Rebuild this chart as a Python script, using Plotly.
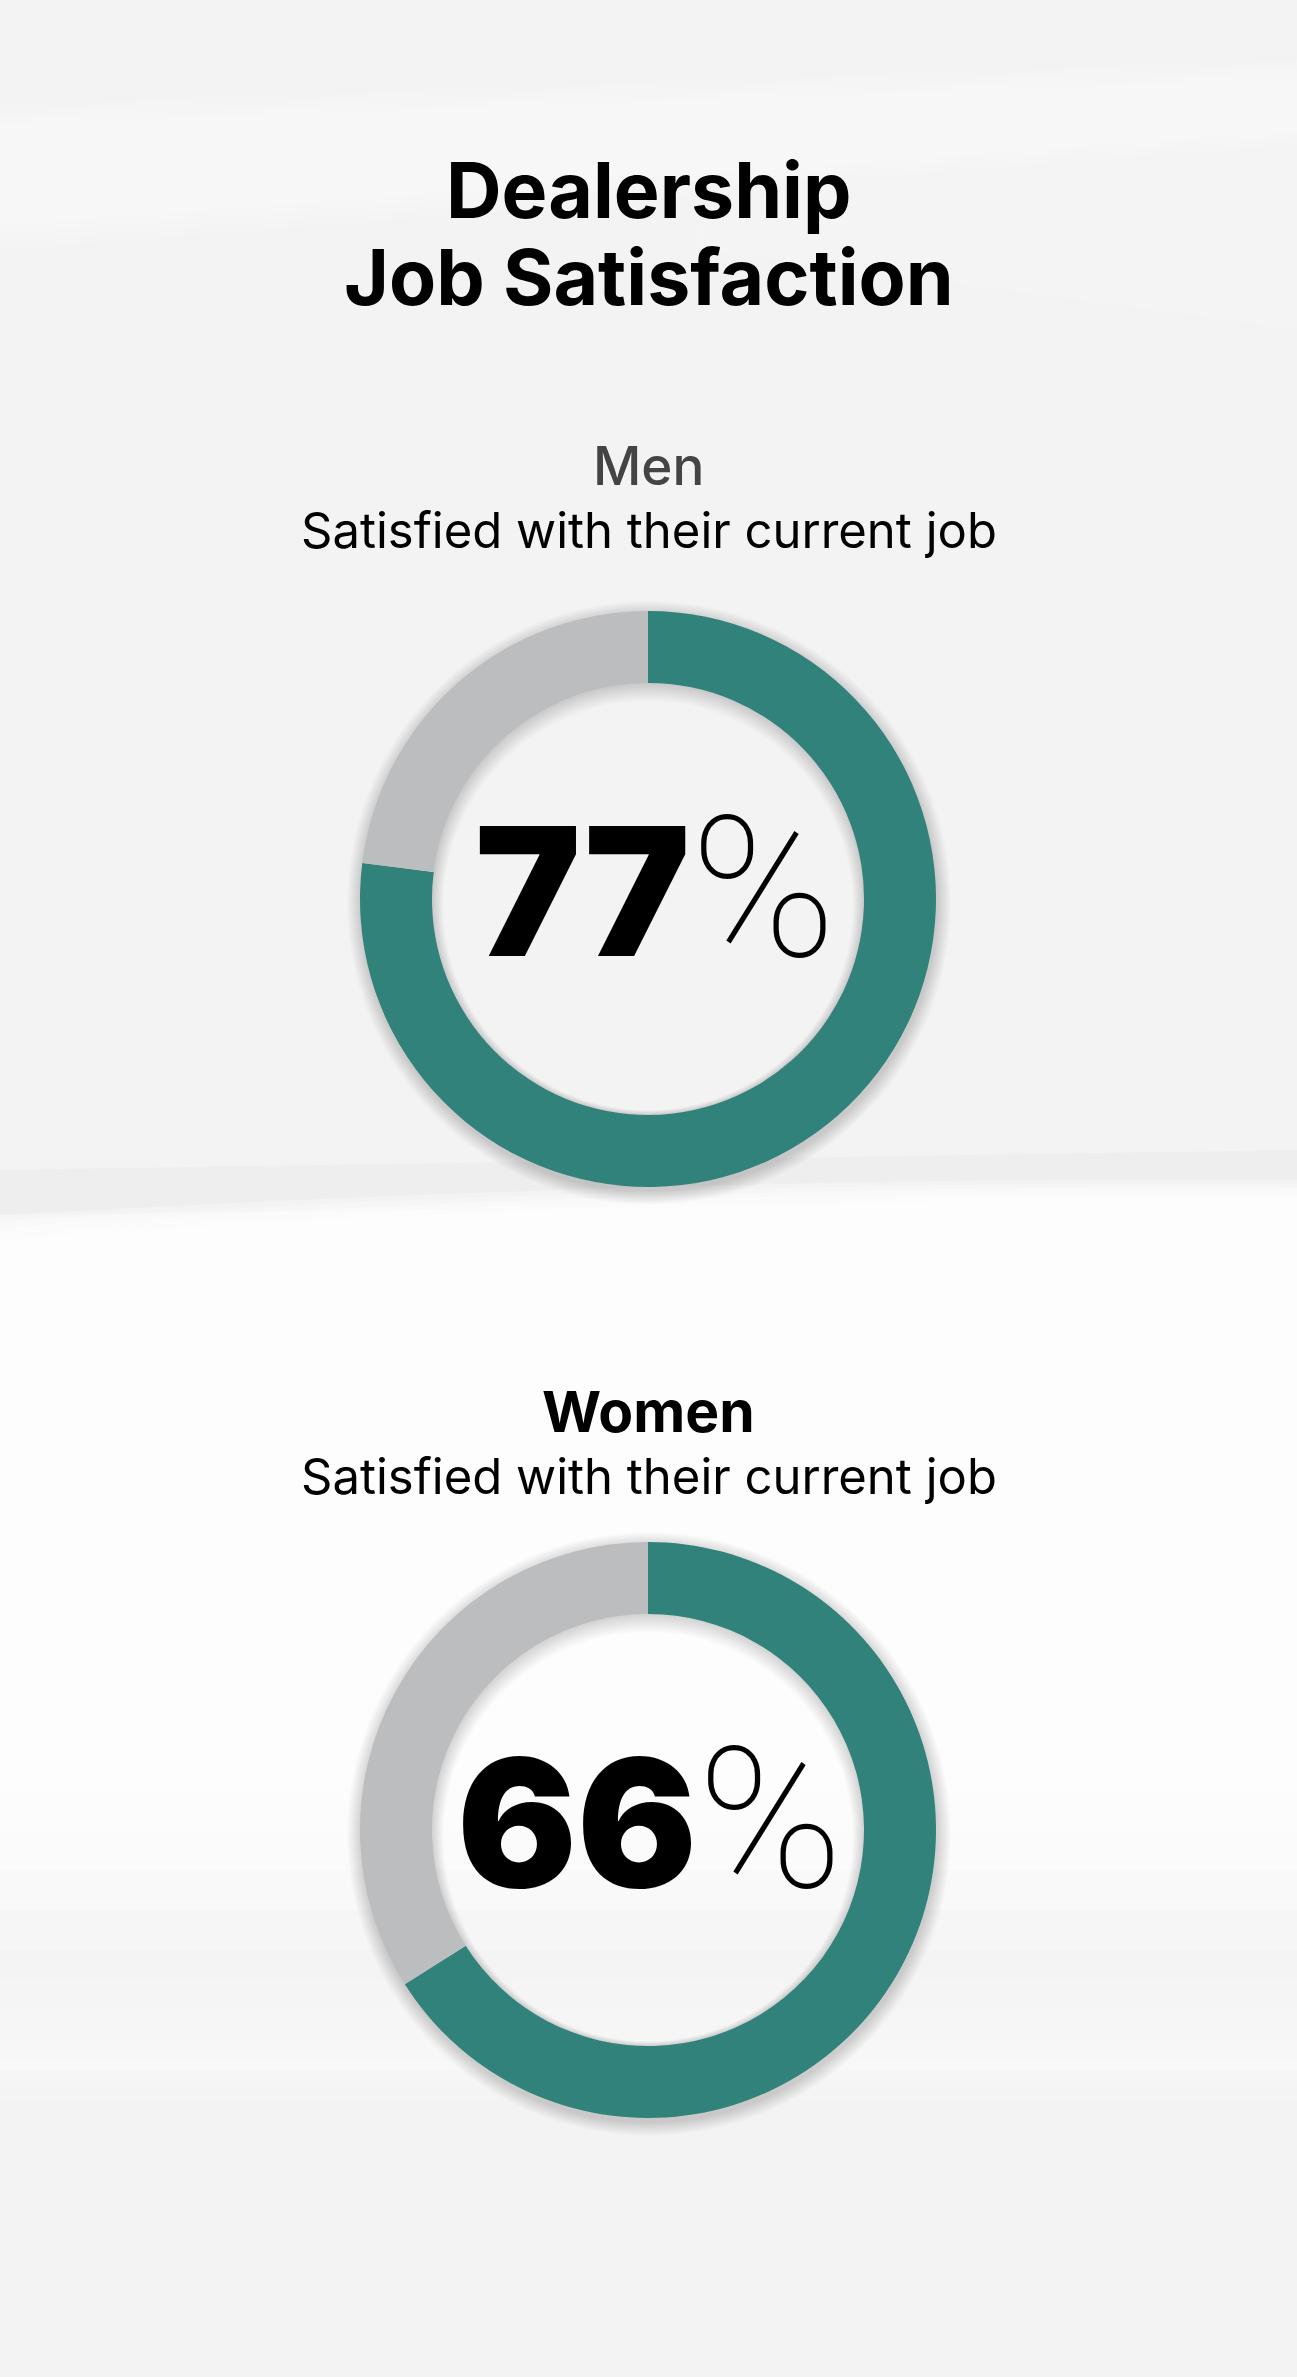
import math
import plotly.graph_objects as go

# chart data
groups = ["Men", "Women"]
satisfied = [77, 66]
not_satisfied = [23, 34]
subtitle = "Satisfied with their current job"
title_lines = ["Dealership", "Job Satisfaction"]

TEAL = "#31827a"
GREY = "#bcbdbf"
FONT = "Inter"

W, H = 1297, 2377
R = 288          # outer ring radius in px
HOLE = 0.75
centers = [(648, 899), (648, 1830)]
label_y = [466, 1411]
sub_y = [530, 1476]
label_color = ["#444444", "#000000"]
label_weight = [500, 700]
label_size = [53, 57]
pct_x = [655, 650]


def px_x(p):
    return p / W


def px_y(p):
    return 1 - p / H


def band(y0, y1, color, opacity):
    return dict(type="rect", xref="paper", yref="paper", layer="below",
                x0=0, x1=1, y0=px_y(y1), y1=px_y(y0),
                fillcolor=color, opacity=opacity, line=dict(width=0))


def soft_path(pts, color, opacity):
    d = "M " + " L ".join(f"{px_x(x)} {px_y(y)}" for x, y in pts) + " Z"
    return dict(type="path", xref="paper", yref="paper", layer="below", path=d,
                fillcolor=color, opacity=opacity, line=dict(width=0))


def ring(cx, cy, r_out, r_in, color, opacity, dy_in=0.0, n=120):
    outer = [(cx + r_out * math.cos(2 * math.pi * k / n), cy + r_out * math.sin(2 * math.pi * k / n)) for k in range(n)]
    inner = [(cx + r_in * math.cos(-2 * math.pi * k / n), cy + dy_in + r_in * math.sin(-2 * math.pi * k / n)) for k in range(n)]
    d = ("M " + " L ".join(f"{px_x(x):.5f} {px_y(y):.5f}" for x, y in outer) + " Z "
         + "M " + " L ".join(f"{px_x(x):.5f} {px_y(y):.5f}" for x, y in inner) + " Z")
    return dict(type="path", xref="paper", yref="paper", layer="below", path=d,
                fillcolor=color, opacity=opacity, line=dict(width=0))


fig = go.Figure()

for i, g in enumerate(groups):
    cx, cy = centers[i]
    fig.add_trace(go.Pie(
        labels=["Satisfied", "Not satisfied"],
        values=[satisfied[i], not_satisfied[i]],
        hole=HOLE, sort=False, direction="clockwise", rotation=0,
        marker=dict(colors=[TEAL, GREY], line=dict(width=0)),
        textinfo="none", hoverinfo="label+percent", showlegend=False,
        domain=dict(x=[px_x(cx - R), px_x(cx + R)], y=[px_y(cy + R), px_y(cy - R)]),
    ))

shapes = []
# background light streaks, stacked thin to look soft
for k in range(6):
    shapes.append(soft_path([(0, 105 + k * 6), (1297, 60 + k * 6), (1297, 150 - k * 6), (0, 250 - k * 8)], "white", 0.10))
for k in range(5):
    shapes.append(soft_path([(700, 190 + k * 5), (1297, 140 + k * 5), (1297, 330 - k * 10), (700, 250 - k * 4)], "white", 0.08))
for k in range(5):
    shapes.append(soft_path([(0, 380 + k * 8), (1297, 330 + k * 8), (1297, 470 - k * 8), (0, 560 - k * 8)], "white", 0.05))
# darker streak over the swoosh
shapes.append(soft_path([(0, 1170), (1297, 1150), (1297, 1200), (0, 1215)], "#e4e4e4", 0.35))
# bright lower area with soft edges
for k in range(6):
    shapes.append(dict(type="path", xref="paper", yref="paper", layer="below",
                       path=(f"M 0 {px_y(1245 - k * 6)} Q 0.55 {px_y(1195 - k * 4)} 1 {px_y(1200 - k * 4)} "
                             f"L 1 {px_y(1950 - k * 40)} L 0 {px_y(1950 - k * 40)} Z"),
                       fillcolor="white", opacity=0.3, line=dict(width=0)))
for k in range(5):
    shapes.append(band(1950 + k * 30, 2100 - k * 10, "white", 0.12))

for cx, cy in centers:
    r_in = R * HOLE
    # outer drop shadow (annuli so the hole stays clear)
    for k in range(14, 0, -1):
        shapes.append(ring(cx + 1, cy + 4, R + k, r_in + 20, "#000000", 0.011))
    # inset shadow inside the hole, heavier at the top
    for k in range(1, 9):
        shapes.append(ring(cx, cy, r_in + 2, r_in - k * 1.4, "#000000", 0.018, dy_in=k * 0.8))

annotations = []
for j, line in enumerate(title_lines):
    annotations.append(dict(text=line, x=0.5, y=px_y([190, 277][j]), xref="paper", yref="paper",
                            xanchor="center", yanchor="middle", showarrow=False,
                            font=dict(family=FONT, size=77, color="#000", weight=700)))

for i, g in enumerate(groups):
    cx, cy = centers[i]
    annotations.append(dict(text=g, x=0.5, y=px_y(label_y[i]), xref="paper", yref="paper",
                            xanchor="center", yanchor="middle", showarrow=False,
                            font=dict(family=FONT, size=label_size[i], color=label_color[i], weight=label_weight[i])))
    annotations.append(dict(text=subtitle, x=0.5, y=px_y(sub_y[i]), xref="paper", yref="paper",
                            xanchor="center", yanchor="middle", showarrow=False,
                            font=dict(family=FONT, size=49, color="#000", weight=400)))
    big = (f"<span style='font-weight:900'>{satisfied[i]}</span>"
           f"<span style='font-family:Roboto;font-weight:100;font-size:196px'>%</span>")
    annotations.append(dict(text=big, x=px_x(pct_x[i]), y=px_y(cy - 10), xref="paper", yref="paper",
                            xanchor="center", yanchor="middle", showarrow=False,
                            font=dict(family=FONT, size=178, color="#000")))

fig.update_layout(
    width=W, height=H,
    margin=dict(l=0, r=0, t=0, b=0),
    paper_bgcolor="#f3f3f3", plot_bgcolor="#f3f3f3",
    shapes=shapes, annotations=annotations,
)

fig.write_html("out.html", config={"displayModeBar": False},
               post_script="document.body.style.margin='0';")
